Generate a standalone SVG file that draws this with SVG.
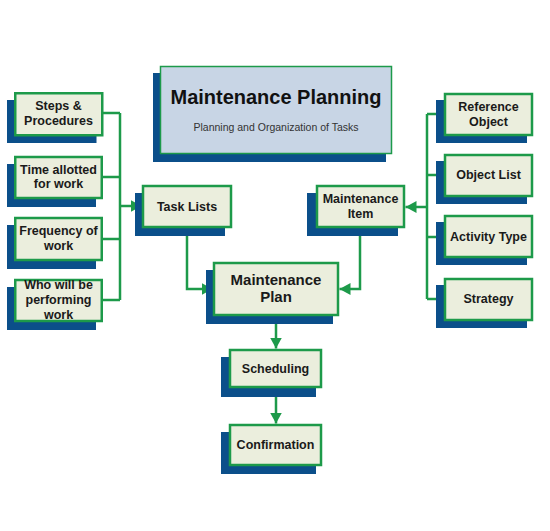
<svg xmlns="http://www.w3.org/2000/svg" width="550" height="531" viewBox="0 0 550 531">
<defs>
<style>
.sh{fill:#0b4f8a}
.bx{fill:#ebeedd;stroke:#1d9a4a;stroke-width:2.5}
.t{font-family:"Liberation Sans",Arial,sans-serif;font-weight:bold;font-size:12.5px;fill:#1a1a1a;text-anchor:middle}
.big{font-size:15px}
.cn{fill:none;stroke:#1d9a4a;stroke-width:2.5}
</style>
<marker id="ah" markerUnits="userSpaceOnUse" markerWidth="12" markerHeight="14" viewBox="0 0 12 14" refX="11" refY="7" orient="auto">
<path d="M0,1 L11,7 L0,13 Z" fill="#1d9a4a"/>
</marker>
</defs>
<rect width="550" height="531" fill="#ffffff"/>

<g id="connectors">
<path class="cn" d="M103,113 H120 M102,177 H120 M102,239 H120 M102,300 H120 M120,113 V300"/>
<path class="cn" d="M120,206 H141.5" marker-end="url(#ah)"/>
<path class="cn" d="M187,228 V289 H212.5" marker-end="url(#ah)"/>
<path class="cn" d="M444,114 H427 M444,175 H427 M444,237 H427 M444,299 H427 M427,114 V299"/>
<path class="cn" d="M427,207 H405.5" marker-end="url(#ah)"/>
<path class="cn" d="M360,228 V289 H339.5" marker-end="url(#ah)"/>
<path class="cn" d="M276,316 V348.5" marker-end="url(#ah)"/>
<path class="cn" d="M276,388 V423.5" marker-end="url(#ah)"/>
</g>

<g id="title">
<rect class="sh" x="153" y="73" width="233" height="89"/>
<rect x="160.5" y="66.5" width="231" height="87" fill="#c8d5e5" stroke="#1d9a4a" stroke-width="1.5"/>
<text x="276" y="103.5" font-family="'Liberation Sans',Arial,sans-serif" font-weight="bold" font-size="20" fill="#111" text-anchor="middle" textLength="211" lengthAdjust="spacingAndGlyphs">Maintenance Planning</text>
<text x="276" y="130.5" font-family="'Liberation Sans',Arial,sans-serif" font-size="10.5" fill="#333" text-anchor="middle">Planning and Organization of Tasks</text>
</g>

<g id="steps">
<rect class="sh" x="7" y="100" width="89.5" height="43"/>
<rect class="bx" x="15.25" y="93.25" width="87" height="42"/>
<text class="t" x="58.5" y="110">Steps &amp;</text>
<text class="t" x="58.5" y="124.5">Procedures</text>
</g>
<g id="time">
<rect class="sh" x="7" y="164" width="89" height="43"/>
<rect class="bx" x="15.25" y="157" width="86.5" height="41"/>
<text class="t" x="58.5" y="173.5">Time allotted</text>
<text class="t" x="58.5" y="188">for work</text>
</g>
<g id="frequency">
<rect class="sh" x="7" y="225" width="89" height="44"/>
<rect class="bx" x="15.25" y="218" width="86.5" height="42"/>
<text class="t" x="58.5" y="235">Frequency of</text>
<text class="t" x="58.5" y="249.5">work</text>
</g>
<g id="who">
<rect class="sh" x="7" y="287" width="89" height="43"/>
<rect class="bx" x="15.25" y="280" width="86.5" height="41"/>
<text class="t" x="58.5" y="289">Who will be</text>
<text class="t" x="58.5" y="304">performing</text>
<text class="t" x="58.5" y="318.5">work</text>
</g>

<g id="tasklists">
<rect class="sh" x="135" y="193" width="90" height="43"/>
<rect class="bx" x="143" y="186" width="88" height="41"/>
<text class="t" x="187" y="210.5">Task Lists</text>
</g>

<g id="maintenanceitem">
<rect class="sh" x="307" y="193" width="91" height="43"/>
<rect class="bx" x="317" y="186" width="87" height="41"/>
<text class="t" x="360.5" y="203">Maintenance</text>
<text class="t" x="360.5" y="217.5">Item</text>
</g>

<g id="refobject">
<rect class="sh" x="436" y="100" width="91" height="43"/>
<rect class="bx" x="445" y="94" width="87" height="41"/>
<text class="t" x="488.5" y="111">Reference</text>
<text class="t" x="488.5" y="126">Object</text>
</g>
<g id="objectlist">
<rect class="sh" x="436" y="161" width="91" height="43"/>
<rect class="bx" x="445" y="155" width="87" height="41"/>
<text class="t" x="488.5" y="179">Object List</text>
</g>
<g id="activitytype">
<rect class="sh" x="436" y="222" width="91" height="43"/>
<rect class="bx" x="445" y="216" width="87" height="41"/>
<text class="t" x="488.5" y="240.5">Activity Type</text>
</g>
<g id="strategy">
<rect class="sh" x="436" y="285" width="91" height="43"/>
<rect class="bx" x="445" y="279" width="87" height="41"/>
<text class="t" x="488.5" y="303">Strategy</text>
</g>

<g id="plan">
<rect class="sh" x="206" y="270" width="127" height="54"/>
<rect class="bx" x="214" y="263" width="124" height="52"/>
<text class="t big" x="276" y="285">Maintenance</text>
<text class="t big" x="276" y="302">Plan</text>
</g>

<g id="scheduling">
<rect class="sh" x="221" y="357" width="95" height="40"/>
<rect class="bx" x="230" y="350" width="91" height="37"/>
<text class="t" x="275.5" y="373">Scheduling</text>
</g>

<g id="confirmation">
<rect class="sh" x="221" y="432" width="95" height="42"/>
<rect class="bx" x="230" y="425" width="91" height="40"/>
<text class="t" x="275.5" y="448.5">Confirmation</text>
</g>
</svg>
